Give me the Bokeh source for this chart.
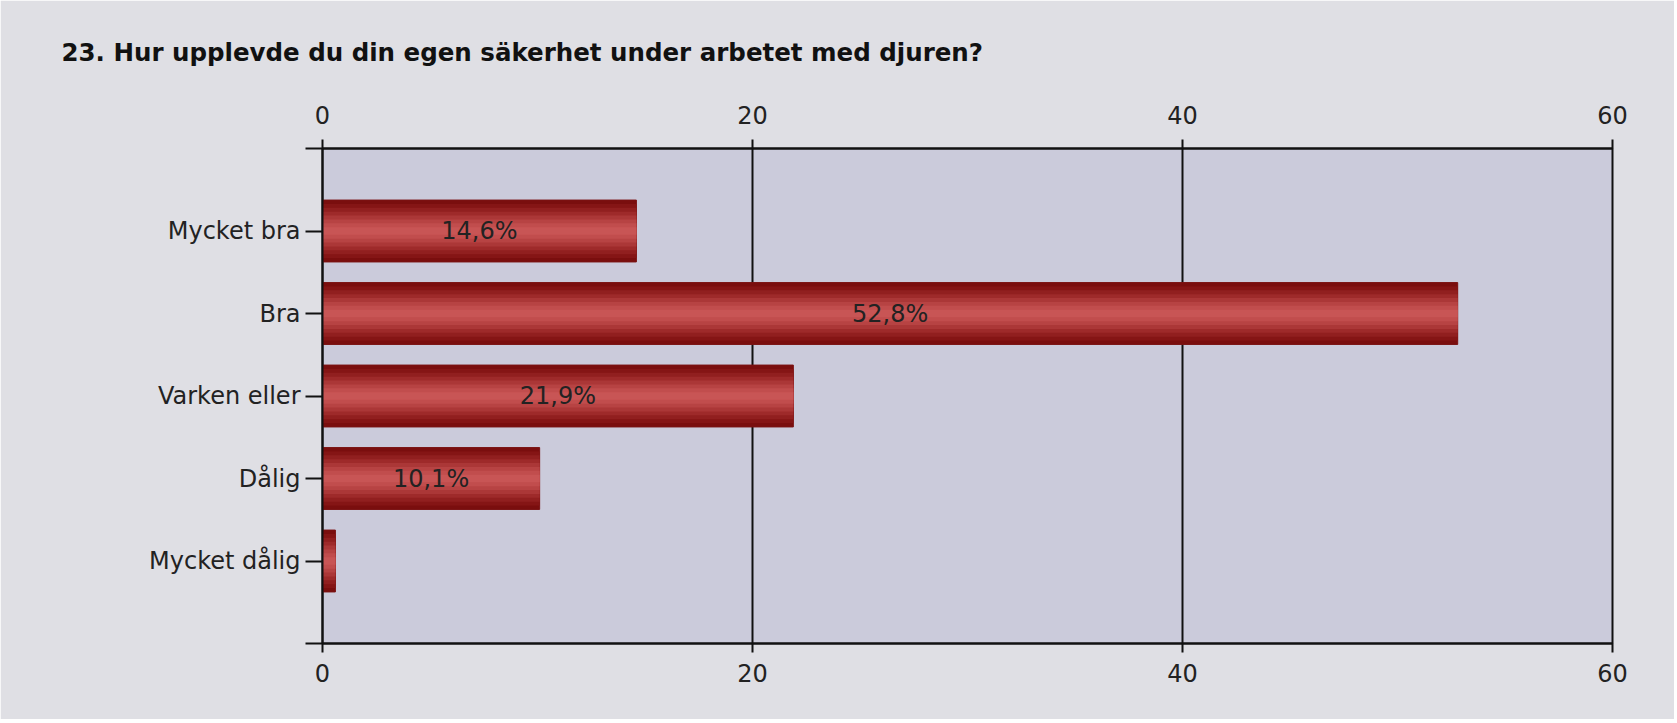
from bokeh.plotting import figure
from bokeh.models import Range1d, LinearAxis, FixedTicker, ColumnDataSource, Grid
from bokeh.core.properties import value
from bokeh.embed import file_html
from bokeh.resources import INLINE

# ---- data ----
title_text = "23. Hur upplevde du din egen säkerhet under arbetet med djuren?"
categories = ["Mycket bra", "Bra", "Varken eller", "Dålig", "Mycket dålig"]
percents = [14.6, 52.8, 21.9, 10.1, 0.6]
x_ticks = [0, 20, 40, 60]

FONT = "DejaVu Sans"
BG = "#dfdfe4"
PLOT_BG = "#cbcbdb"
FS = "24px"

positions = list(range(1, len(categories) + 1))

p = figure(width=1674, height=719, output_backend="svg", toolbar_location=None,
           x_range=Range1d(0, 60), y_range=Range1d(len(categories) + 1, 0),
           x_axis_location=None, y_axis_location=None,
           min_border_left=322, min_border_right=62, min_border_top=148, min_border_bottom=76)
p.background_fill_color = PLOT_BG
p.border_fill_color = BG
p.outline_line_color = "#111111"
p.outline_line_width = 2

# title
p.title.text = title_text
p.title.text_font = FONT
p.title.text_font_size = "24.5px"
p.title.text_font_style = "bold"
p.title.text_color = "#111111"
p.title.align = "left"
p.title.offset = -261
p.title.standoff = 71

# axes
def style_x(ax, standoff):
    ax.ticker = FixedTicker(ticks=x_ticks)
    ax.axis_line_color = "#111111"
    ax.axis_line_width = 2
    ax.major_tick_line_color = "#111111"
    ax.major_tick_line_width = 2
    ax.major_tick_in = 0
    ax.major_tick_out = 9
    ax.minor_tick_line_color = None
    ax.major_label_text_font = FONT
    ax.major_label_text_font_size = FS
    ax.major_label_text_color = "#222222"
    ax.major_label_standoff = standoff

top = LinearAxis()
style_x(top, 16)
p.add_layout(top, "above")
bottom = LinearAxis()
style_x(bottom, 11)
p.add_layout(bottom, "below")

left = LinearAxis()
left.ticker = FixedTicker(ticks=list(range(0, len(categories) + 2)))
overrides = {0: "", len(categories) + 1: ""}
for pos, cat in zip(positions, categories):
    overrides[pos] = cat
left.major_label_overrides = overrides
left.axis_line_color = "#111111"
left.axis_line_width = 2
left.major_tick_line_color = "#111111"
left.major_tick_line_width = 2
left.major_tick_in = 0
left.major_tick_out = 17
left.minor_tick_line_color = None
left.major_label_text_font = FONT
left.major_label_text_font_size = FS
left.major_label_text_color = "#222222"
left.major_label_standoff = 5
p.add_layout(left, "left")

# grid
p.xgrid.visible = False
p.ygrid.visible = False
g = Grid(dimension=0, ticker=FixedTicker(ticks=x_ticks), grid_line_color="#111111", grid_line_width=2)
p.add_layout(g)

# bars with a cylinder-like shading (nested layers)
src = ColumnDataSource(dict(y=positions, right=percents, cat=categories))
bar_h = 0.75
shades = ["#7a0e0e", "#851515", "#911f1f", "#9e2a2a", "#ab3737", "#b74343", "#c14d4d", "#c85555"]
n = len(shades)
for i, c in enumerate(shades):
    h = bar_h * (1 - i / n)
    p.hbar(y="y", left=0, right="right", height=h, source=src,
           fill_color=c, line_color=None if i else "#7a1212", line_width=1)

# value labels
lab_y, lab_x, lab_t = [], [], []
for pos, v in zip(positions, percents):
    if v >= 2:
        lab_y.append(pos)
        lab_x.append(v / 2)
        lab_t.append(f"{v:.1f}%".replace(".", ","))
p.text(x=lab_x, y=lab_y, text=lab_t, text_font=value(FONT), text_font_size=FS,
       text_color="#222222", text_align="center", text_baseline="middle")

open("out.html", "w").write(file_html(p, INLINE))
